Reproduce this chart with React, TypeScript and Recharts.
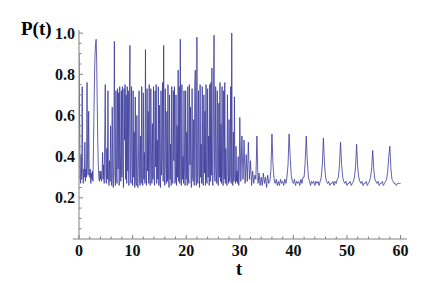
import { LineChart, Line, XAxis, YAxis, ReferenceLine } from "recharts";

// P(t), t = 0 .. 29.9, sampled every 0.1 (one row per unit of t)
const EARLY_STEP = 0.1;
const earlyP = [
  0.90, 0.60, 0.30, 0.27, 0.41, 0.29, 0.74, 0.33, 0.27, 0.34,
  0.30, 0.47, 0.28, 0.34, 0.30, 0.76, 0.36, 0.31, 0.62, 0.33,
  0.30, 0.34, 0.27, 0.32, 0.29, 0.33, 0.28, 0.45, 0.62, 0.80,
  0.90, 0.95, 0.97, 0.86, 0.66, 0.48, 0.36, 0.30, 0.28, 0.33,
  0.29, 0.33, 0.28, 0.31, 0.42, 0.29, 0.36, 0.27, 0.50, 0.75,
  0.32, 0.27, 0.44, 0.29, 0.72, 0.30, 0.26, 0.38, 0.28, 0.55,
  0.29, 0.26, 0.64, 0.30, 0.25, 0.40, 0.96, 0.31, 0.26, 0.72,
  0.30, 0.27, 0.73, 0.34, 0.71, 0.26, 0.74, 0.42, 0.28, 0.72,
  0.30, 0.74, 0.36, 0.25, 0.73, 0.48, 0.75, 0.29, 0.70, 0.27,
  0.74, 0.33, 0.72, 0.26, 0.60, 0.94, 0.30, 0.27, 0.74, 0.38,
  0.26, 0.72, 0.30, 0.52, 0.25, 0.69, 0.28, 0.26, 0.60, 0.27,
  0.25, 0.38, 0.72, 0.28, 0.26, 0.50, 0.27, 0.74, 0.30, 0.26,
  0.71, 0.29, 0.42, 0.27, 0.92, 0.30, 0.26, 0.73, 0.33, 0.62,
  0.27, 0.75, 0.30, 0.26, 0.73, 0.44, 0.27, 0.56, 0.29, 0.74,
  0.30, 0.26, 0.72, 0.35, 0.75, 0.27, 0.48, 0.29, 0.74, 0.26,
  0.65, 0.29, 0.25, 0.72, 0.31, 0.40, 0.76, 0.28, 0.94, 0.30,
  0.26, 0.73, 0.36, 0.27, 0.62, 0.28, 0.75, 0.30, 0.25, 0.70,
  0.29, 0.46, 0.26, 0.74, 0.30, 0.27, 0.72, 0.38, 0.74, 0.27,
  0.28, 0.70, 0.26, 0.55, 0.30, 0.82, 0.28, 0.74, 0.27, 0.97,
  0.31, 0.26, 0.75, 0.29, 0.40, 0.27, 0.72, 0.33, 0.26, 0.72,
  0.29, 0.52, 0.26, 0.74, 0.30, 0.27, 0.75, 0.36, 0.64, 0.27,
  0.25, 0.73, 0.30, 0.28, 0.58, 0.26, 0.74, 0.82, 0.30, 0.26,
  0.98, 0.28, 0.27, 0.72, 0.34, 0.25, 0.75, 0.30, 0.46, 0.27,
  0.74, 0.28, 0.26, 0.70, 0.32, 0.62, 0.26, 0.75, 0.29, 0.27,
  0.73, 0.30, 0.50, 0.26, 0.75, 0.28, 0.76, 0.31, 0.83, 0.27,
  0.26, 0.70, 0.99, 0.30, 0.28, 0.74, 0.34, 0.27, 0.72, 0.29,
  0.26, 0.66, 0.30, 0.76, 0.28, 0.56, 0.27, 0.74, 0.32, 0.26,
  0.72, 0.29, 0.76, 0.27, 0.44, 0.30, 0.26, 0.70, 0.33, 0.27,
  0.58, 0.28, 0.30, 0.74, 0.27, 1.00, 0.30, 0.26, 0.52, 0.28,
  0.69, 0.30, 0.27, 0.45, 0.28, 0.33, 0.27, 0.40, 0.26, 0.31,
];

// P(t), t = 30 .. 60, sampled every 0.2 (one row per two units of t)
const LATE_START = 30;
const LATE_STEP = 0.2;
const lateP = [
  0.59, 0.28, 0.50, 0.29, 0.48, 0.27, 0.41, 0.28, 0.47, 0.29,
  0.38, 0.26, 0.33, 0.27, 0.31, 0.29, 0.50, 0.27, 0.32, 0.26,
  0.30, 0.26, 0.32, 0.27, 0.30, 0.25, 0.31, 0.27, 0.28, 0.33,
  0.51, 0.36, 0.29, 0.27, 0.29, 0.26, 0.28, 0.26, 0.29, 0.27,
  0.28, 0.26, 0.29, 0.27, 0.30, 0.36, 0.51, 0.40, 0.31, 0.28,
  0.27, 0.29, 0.26, 0.28, 0.27, 0.28, 0.26, 0.29, 0.27, 0.30,
  0.30, 0.37, 0.50, 0.38, 0.30, 0.28, 0.26, 0.28, 0.27, 0.28,
  0.26, 0.28, 0.27, 0.28, 0.26, 0.28, 0.30, 0.36, 0.49, 0.37,
  0.30, 0.28, 0.27, 0.28, 0.26, 0.27, 0.27, 0.28, 0.26, 0.28,
  0.27, 0.29, 0.30, 0.36, 0.47, 0.36, 0.30, 0.28, 0.27, 0.28,
  0.26, 0.27, 0.27, 0.28, 0.26, 0.27, 0.28, 0.30, 0.35, 0.46,
  0.35, 0.30, 0.28, 0.27, 0.28, 0.26, 0.27, 0.27, 0.28, 0.26,
  0.27, 0.28, 0.30, 0.34, 0.43, 0.34, 0.29, 0.28, 0.27, 0.28,
  0.26, 0.27, 0.27, 0.28, 0.26, 0.27, 0.28, 0.29, 0.33, 0.40,
  0.45, 0.34, 0.29, 0.28, 0.27, 0.27, 0.26, 0.27, 0.27, 0.27,
  0.27,
];

const xTicks = [0, 2, 4, 6, 8, 10, 12, 14, 16, 18, 20, 22, 24, 26, 28, 30,
  32, 34, 36, 38, 40, 42, 44, 46, 48, 50, 52, 54, 56, 58, 60];
const yTicks = [0.05, 0.1, 0.15, 0.2, 0.25, 0.3, 0.35, 0.4, 0.45, 0.5,
  0.55, 0.6, 0.65, 0.7, 0.75, 0.8, 0.85, 0.9, 0.95, 1.0];

const data = [
  ...earlyP.map((p, i) => ({ t: +(i * EARLY_STEP).toFixed(2), p })),
  ...lateP.map((p, i) => ({ t: +(LATE_START + i * LATE_STEP).toFixed(2), p })),
];

const AXIS = "#808080";
const FONT = "'Liberation Serif', 'Times New Roman', serif";

function XTick({ x, y, payload }: any) {
  const major = payload.value % 10 === 0;
  return (
    <g>
      <line x1={x} x2={x} y1={y} y2={y - (major ? 4 : 2.5)} stroke={AXIS} />
      {major && (
        <text x={x} y={y + 17} textAnchor="middle" fontFamily={FONT} fontWeight="bold" fontSize={16} fill="#111">
          {payload.value}
        </text>
      )}
    </g>
  );
}

function YTick({ x, y, payload }: any) {
  const major = Math.round(payload.value * 100) % 20 === 0;
  return (
    <g>
      <line x1={x} x2={x + (major ? 4 : 2.5)} y1={y} y2={y} stroke={AXIS} />
      {major && (
        <text x={x - 4} y={y + 5.5} textAnchor="end" fontFamily={FONT} fontWeight="bold" fontSize={16} fill="#111">
          {payload.value.toFixed(1)}
        </text>
      )}
    </g>
  );
}

export default function App() {
  return (
    <div style={{ position: "absolute", left: 0, top: 0, width: 436, height: 283, background: "#fff" }}>
      <LineChart width={436} height={283} data={data} margin={{ top: 30, right: 29, bottom: 14, left: 34 }}>
        <XAxis
          type="number"
          dataKey="t"
          domain={[0, 61.2]}
          ticks={xTicks}
          interval={0}
          tickSize={0}
          tickMargin={0}
          height={30}
          axisLine={{ stroke: AXIS }}
          tick={<XTick />}
          allowDataOverflow
        />
        <YAxis
          type="number"
          domain={[0, 1.015]}
          ticks={yTicks}
          interval={0}
          tickSize={0}
          tickMargin={0}
          width={45}
          axisLine={{ stroke: AXIS }}
          tick={<YTick />}
          allowDataOverflow
        />
        <ReferenceLine
          segment={[{ x: -1.15, y: 0 }, { x: 0, y: 0 }]}
          stroke={AXIS}
          ifOverflow="visible"
        />
        <Line
          type="linear"
          dataKey="p"
          dot={false}
          stroke="#3a3a9c"
          strokeWidth={0.8}
          isAnimationActive={false}
        />
      </LineChart>
      <div style={{ position: "absolute", left: 21, top: 19, fontFamily: FONT, fontWeight: "bold", fontSize: 19, lineHeight: "19px" }}>
        P(t)
      </div>
      <div style={{ position: "absolute", left: 233, top: 260, width: 12, textAlign: "center", fontFamily: FONT, fontWeight: "bold", fontSize: 18, lineHeight: "18px" }}>
        t
      </div>
    </div>
  );
}
